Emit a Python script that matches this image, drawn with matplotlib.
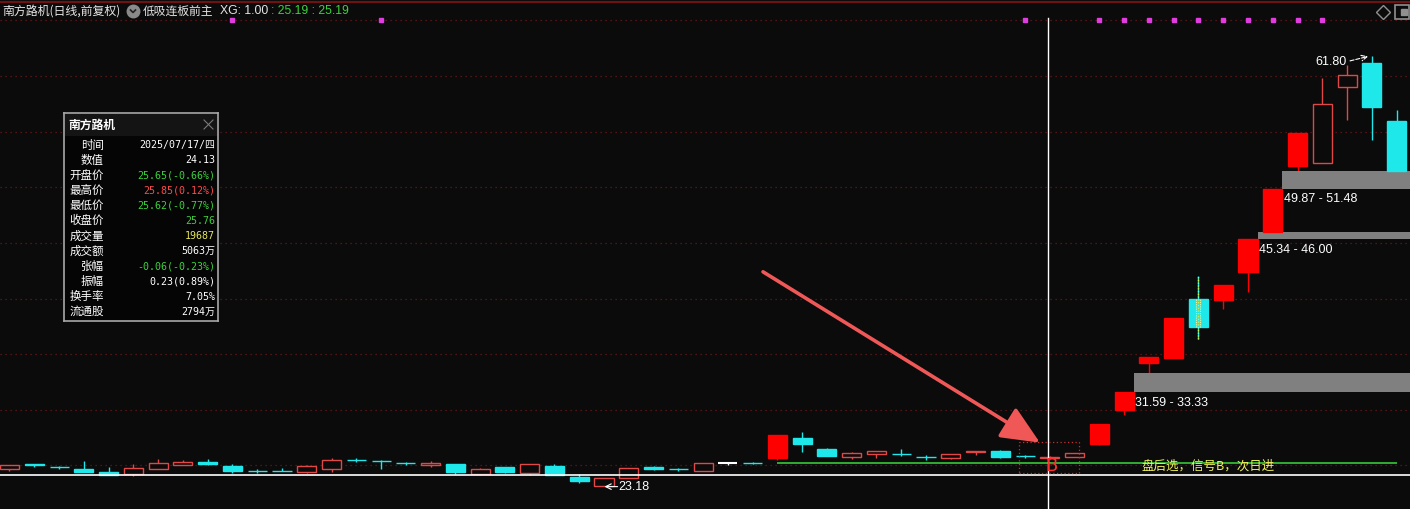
import matplotlib
matplotlib.use('Agg')
import matplotlib.pyplot as plt
from matplotlib.patches import Rectangle
import matplotlib.transforms as mtransforms

plt.rcParams['font.family'] = ['Noto Sans CJK SC', 'DejaVu Sans']

# K线数据 (日线, 前复权)
opens = [24.66, 25.12, 24.88, 24.69, 24.42, 24.27, 24.71, 25.02, 25.31, 24.96,
         24.50, 24.50, 24.45, 24.71, 25.48, 25.42, 25.24, 25.02, 25.13, 24.27,
         24.87, 24.35, 24.98, 23.97, 23.20, 23.85, 24.89, 24.67, 24.53, 25.20,
         25.24, 25.65, 27.44, 26.48, 25.79, 26.06, 26.02, 25.80, 25.70, 26.18,
         26.30, 25.85, 25.65, 25.79, 26.96, 30.01, 34.24, 34.69, 39.96, 39.90,
         42.41, 46.00, 51.95, 52.15, 58.98, 61.16, 55.95]
highs = [25.02, 25.12, 24.98, 25.38, 24.84, 25.13, 25.58, 25.49, 25.56, 25.13,
         24.71, 24.75, 25.04, 25.67, 25.67, 25.49, 25.34, 25.38, 25.13, 24.78,
         24.87, 25.13, 25.13, 24.24, 23.88, 24.75, 24.98, 24.78, 25.22, 25.29,
         25.31, 27.74, 28.04, 26.57, 26.24, 26.30, 26.46, 25.97, 26.00, 26.33,
         26.39, 25.92, 25.85, 26.15, 28.71, 31.59, 34.75, 38.23, 42.05, 41.22,
         45.34, 49.87, 54.86, 59.79, 60.99, 61.80, 56.91]
lows = [24.48, 24.84, 24.66, 24.45, 24.12, 24.06, 24.71, 25.02, 25.02, 24.35,
        24.35, 24.47, 24.35, 24.42, 25.31, 24.66, 25.07, 24.89, 24.26, 24.17,
        24.35, 24.17, 24.12, 23.45, 23.18, 23.85, 24.62, 24.53, 24.53, 25.07,
        25.10, 25.47, 26.24, 25.88, 25.61, 25.70, 25.88, 25.52, 25.61, 25.92,
        25.65, 25.65, 25.62, 25.79, 26.81, 29.56, 33.33, 34.69, 36.39, 39.09,
        40.62, 46.00, 51.48, 52.15, 56.02, 54.22, 51.49]
closes = [25.02, 25.08, 24.85, 24.45, 24.15, 24.75, 25.22, 25.31, 25.16, 24.53,
          24.48, 24.47, 24.93, 25.47, 25.45, 25.40, 25.22, 25.25, 24.44, 24.69,
          24.45, 25.13, 24.15, 23.61, 23.85, 24.75, 24.72, 24.65, 25.22, 25.20,
          25.22, 27.74, 26.96, 25.88, 26.10, 26.30, 26.00, 25.78, 26.00, 26.33,
          25.79, 25.82, 25.76, 26.10, 28.71, 31.59, 34.75, 38.23, 37.47, 41.22,
          45.34, 49.87, 54.86, 57.45, 60.09, 57.24, 51.49]

# 缺口
gap_idx = [45, 50, 51]
gap_lo = [31.59, 45.34, 49.87]
gap_hi = [33.33, 46.00, 51.48]

# XG 信号
signal_idx = [9, 15, 41, 44, 45, 46, 47, 48, 49, 50, 51, 52, 53]

sel_idx = 42
sel_price = 24.13
line_price = 25.19
line_start = 31
low_label = 23.18
high_label = 61.80

info_title = '南方路机'
info_labels = ['时间', '数值', '开盘价', '最高价', '最低价', '收盘价',
               '成交量', '成交额', '张幅', '振幅', '换手率', '流通股']
info_values = ['2025/07/17/四', '24.13', '25.65(-0.66%)', '25.85(0.12%)',
               '25.62(-0.77%)', '25.76', '19687', '5063万', '-0.06(-0.23%)',
               '0.23(0.89%)', '7.05%', '2794万']
info_colors = ['white', 'white', '#3cd23c', '#ff4a4a', '#3cd23c', '#3cd23c',
               '#e6e65a', 'white', '#3cd23c', 'white', 'white', 'white']

BG = '#0b0b0b'
W, H = 1410, 509
RED = '#e04848'
LIM = '#ff0000'
CYAN = '#1ee8ea'

fig = plt.figure(figsize=(14.1, 5.09), dpi=100, facecolor=BG)
ax = fig.add_axes([0, 0, 1, 1])
ax.set_facecolor(BG)
ax.set_xlim(-0.3835, 56.54)
ax.set_ylim(21.09, 66.82)
ax.axis('off')

for p in range(25, 66, 5):
    ax.axhline(p, color='#6e1717', lw=0.9, ls=(0, (1, 3)), zorder=1)

w = 0.77
for i in range(len(opens)):
    o, h, l, c = opens[i], highs[i], lows[i], closes[i]
    if c > o:
        lim = i > 0 and c >= closes[i - 1] * 1.095
        col = LIM if lim else RED
        ax.vlines(i, l, o, color=col, lw=1, zorder=2)
        ax.vlines(i, c, h, color=col, lw=1, zorder=2)
        ax.add_patch(Rectangle((i - w / 2, o), w, c - o, facecolor=col if lim else BG,
                               edgecolor=col, lw=1, zorder=3))
    elif c < o:
        ax.vlines(i, l, h, color=CYAN, lw=1, zorder=2)
        ax.add_patch(Rectangle((i - w / 2, c), w, o - c, facecolor=CYAN,
                               edgecolor=CYAN, lw=1, zorder=3))
    else:
        ax.vlines(i, l, h, color='white', lw=1, zorder=2)
        ax.hlines(o, i - w / 2, i + w / 2, color='white', lw=1.5, zorder=3)

# 选中K线标记
ax.vlines(48, lows[48], highs[48], color='#c8f050', lw=1, ls=(0, (1, 1)), zorder=4)
ax.vlines([48 - 0.08, 48 + 0.08], closes[48], opens[48], color='#f0f0a0', lw=0.8,
          ls=(0, (1, 1)), zorder=4)

# 缺口
for idx, lo, hi in zip(gap_idx, gap_lo, gap_hi):
    ax.add_patch(Rectangle((idx + w / 2, lo), 60, hi - lo, facecolor='#808080',
                           lw=0, zorder=2))
    ax.text(idx + 0.45, lo - 0.4, f'{lo:.2f} - {hi:.2f}', color='white',
            fontsize=9, family='Liberation Sans', va='top', ha='left', zorder=5)

# 十字线
ax.axhline(sel_price, color='white', lw=1.2, zorder=4)
ax.axvline(sel_idx - 0.07, ymin=0, ymax=1 - 18 / H, color='white', lw=1, zorder=4)

ax.hlines(line_price, line_start, 56, color='#36c836', lw=1.2, zorder=2)

ax.add_patch(Rectangle((sel_idx - 1.24, 24.33), 2.42, 2.78, fill=False,
                       edgecolor='#c83030', ls=(0, (1, 2)), lw=0.9, zorder=5))
ax.text(sel_idx + 0.05, 24.95, 'B', color='#ff3030', fontsize=13, ha='center',
        va='center', family='DejaVu Sans', zorder=6)

ax.annotate('', xy=(41.6, 27.05), xytext=(30.42, 42.4),
            arrowprops=dict(arrowstyle='-|>,head_length=0.85,head_width=0.38',
                            color='#f05858', lw=2.6, mutation_scale=28,
                            shrinkA=0, shrinkB=0), zorder=6)

fig.text(1141 / W, 1 - 466 / H, '盘后选，信号B，次日进', color='#f0f060',
         fontsize=9, va='center', ha='left')

# 最高/最低价标注
ax.text(54.0, 61.25, f'{high_label:.2f}', color='white', fontsize=9,
        family='Liberation Sans', ha='right', va='center', zorder=5)
ax.annotate('', xy=(54.85, 61.75), xytext=(54.12, 61.35),
            arrowprops=dict(arrowstyle='->', color='white', lw=0.8, ls='--',
                            shrinkA=0, shrinkB=0))
ax.text(24.57, 23.07, f'{low_label:.2f}', color='white', fontsize=9,
        family='Liberation Sans', ha='left', va='center', zorder=5)
ax.annotate('', xy=(24.02, 23.1), xytext=(24.55, 23.1),
            arrowprops=dict(arrowstyle='->', color='white', lw=0.8,
                            shrinkA=0, shrinkB=0))

# 信号点
trans = mtransforms.blended_transform_factory(ax.transData, ax.transAxes)
ax.plot(signal_idx, [1 - 20 / H] * len(signal_idx), ls='none', marker='s',
        ms=2.6, color='#e03ce0', transform=trans, zorder=5)

# 顶部边框与标题
ax.plot([0, 1], [1 - 1.5 / H] * 2, color='#701212', lw=1.5, transform=ax.transAxes)
fig.text(2 / W, 1 - 11 / H, '南方路机(日线,前复权)', color='#e6e6e6', fontsize=8.6,
         va='center', ha='left')
ax.plot([133 / W], [1 - 11 / H], marker='o', ms=9, color='#8a8a8a',
        transform=ax.transAxes)
ax.plot([130.5 / W, 133 / W, 135.5 / W], [1 - 10 / H, 1 - 12.5 / H, 1 - 10 / H],
        color='#222222', lw=1.2, transform=ax.transAxes)
fig.text(143 / W, 1 - 11 / H, '低吸连板前主', color='#e6e6e6', fontsize=8.5,
         va='center', ha='left')
fig.text(220 / W, 1 - 11 / H, 'XG: 1.00', color='#e6e6e6', fontsize=8.8,
         family='Liberation Sans', va='center', ha='left')
fig.text(271 / W, 1 - 11 / H, ': 25.19 : 25.19', color='#3cd23c', fontsize=8.8,
         family='Liberation Sans', va='center', ha='left')
ax.plot([1383 / W], [1 - 12 / H], marker='D', ms=7, mfc='none', mec='#909090',
        mew=1, transform=ax.transAxes)
ax.plot([1402 / W], [1 - 12 / H], marker='s', ms=10, mfc='none', mec='#909090',
        mew=1.2, transform=ax.transAxes)
ax.plot([1404 / W], [1 - 12 / H], marker='s', ms=5, color='#909090',
        transform=ax.transAxes)

# 信息框
bx = fig.add_axes([64 / W, 1 - 321 / H, 154 / W, 208 / H])
bx.set_xlim(0, 154)
bx.set_ylim(208, 0)
bx.set_facecolor('#050505')
bx.set_xticks([])
bx.set_yticks([])
for s in bx.spines.values():
    s.set_color('#a8a8a8')
    s.set_linewidth(1.2)
bx.add_patch(Rectangle((1, 1), 152, 22, facecolor='#141414', lw=0))
bx.text(4, 12, info_title, color='white', fontsize=8.5, fontweight='bold',
        va='center', ha='left')
bx.plot([140, 149], [7, 16], color='#7a7a7a', lw=0.8)
bx.plot([140, 149], [16, 7], color='#7a7a7a', lw=0.8)
for k, (lab, val, col) in enumerate(zip(info_labels, info_values, info_colors)):
    yy = 32 + k * 15.15
    bx.text(40, yy, lab, color='white', fontsize=8.3, ha='right', va='center')
    bx.text(151, yy, val, color=col, fontsize=7.2, ha='right', va='center',
            family=['DejaVu Sans Mono', 'Noto Sans CJK SC'])

fig.savefig('out.png', dpi=100, facecolor=BG)
